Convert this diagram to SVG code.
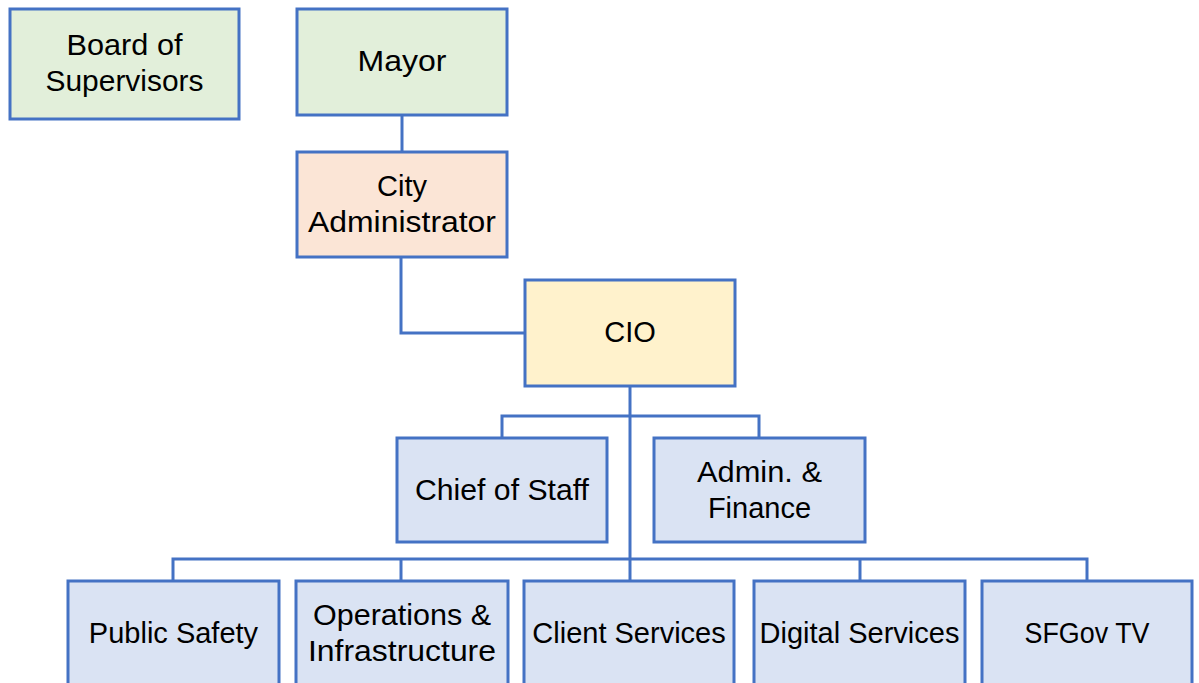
<svg xmlns="http://www.w3.org/2000/svg" width="1199" height="683" viewBox="0 0 1199 683">
<style>
.box{stroke:#4472C4;stroke-width:3}
.g{fill:#E2EFDA}.p{fill:#FBE5D6}.y{fill:#FFF2CC}.b{fill:#DAE3F3}
text{font-family:"Liberation Sans",Arial,sans-serif;font-size:29px;fill:#000;text-anchor:middle}
.c{fill:none;stroke:#4472C4;stroke-width:3}
</style>
<rect width="1199" height="683" fill="#fff"/>
<g id="connectors" class="c">
<path d="M402 115V152"/>
<path d="M401 257V333H525"/>
<path d="M630 386V581"/>
<path d="M502 438V416H759V438"/>
<path d="M173 581V559H1087V581"/>
<path d="M401 559V581"/>
<path d="M860 559V581"/>
</g>
<g id="board"><rect class="box g" x="10" y="9" width="229" height="110"/><text x="124.5" y="55" textLength="116" lengthAdjust="spacingAndGlyphs">Board of</text><text x="124.5" y="91" textLength="158" lengthAdjust="spacingAndGlyphs">Supervisors</text></g>
<g id="mayor"><rect class="box g" x="297" y="9" width="210" height="106"/><text x="402" y="71" textLength="89" lengthAdjust="spacingAndGlyphs">Mayor</text></g>
<g id="cityadmin"><rect class="box p" x="297" y="152" width="210" height="105"/><text x="402" y="196">City</text><text x="402" y="232" textLength="188" lengthAdjust="spacingAndGlyphs">Administrator</text></g>
<g id="cio"><rect class="box y" x="525" y="280" width="210" height="106"/><text x="630" y="342">CIO</text></g>
<g id="chief"><rect class="box b" x="397" y="438" width="210" height="104"/><text x="502" y="500" textLength="174" lengthAdjust="spacingAndGlyphs">Chief of Staff</text></g>
<g id="adminfin"><rect class="box b" x="654" y="438" width="211" height="104"/><text x="759.5" y="482" textLength="125" lengthAdjust="spacingAndGlyphs">Admin. &amp;</text><text x="759.5" y="518">Finance</text></g>
<g id="publicsafety"><rect class="box b" x="68" y="581" width="211" height="120"/><text x="173.5" y="643">Public Safety</text></g>
<g id="ops"><rect class="box b" x="296" y="581" width="212" height="120"/><text x="402" y="625" textLength="178" lengthAdjust="spacingAndGlyphs">Operations &amp;</text><text x="402" y="661" textLength="188" lengthAdjust="spacingAndGlyphs">Infrastructure</text></g>
<g id="client"><rect class="box b" x="524" y="581" width="210" height="120"/><text x="629" y="643">Client Services</text></g>
<g id="digital"><rect class="box b" x="754" y="581" width="211" height="120"/><text x="859.5" y="643">Digital Services</text></g>
<g id="sfgov"><rect class="box b" x="982" y="581" width="210" height="120"/><text x="1087" y="643" textLength="125" lengthAdjust="spacingAndGlyphs">SFGov TV</text></g>
</svg>
